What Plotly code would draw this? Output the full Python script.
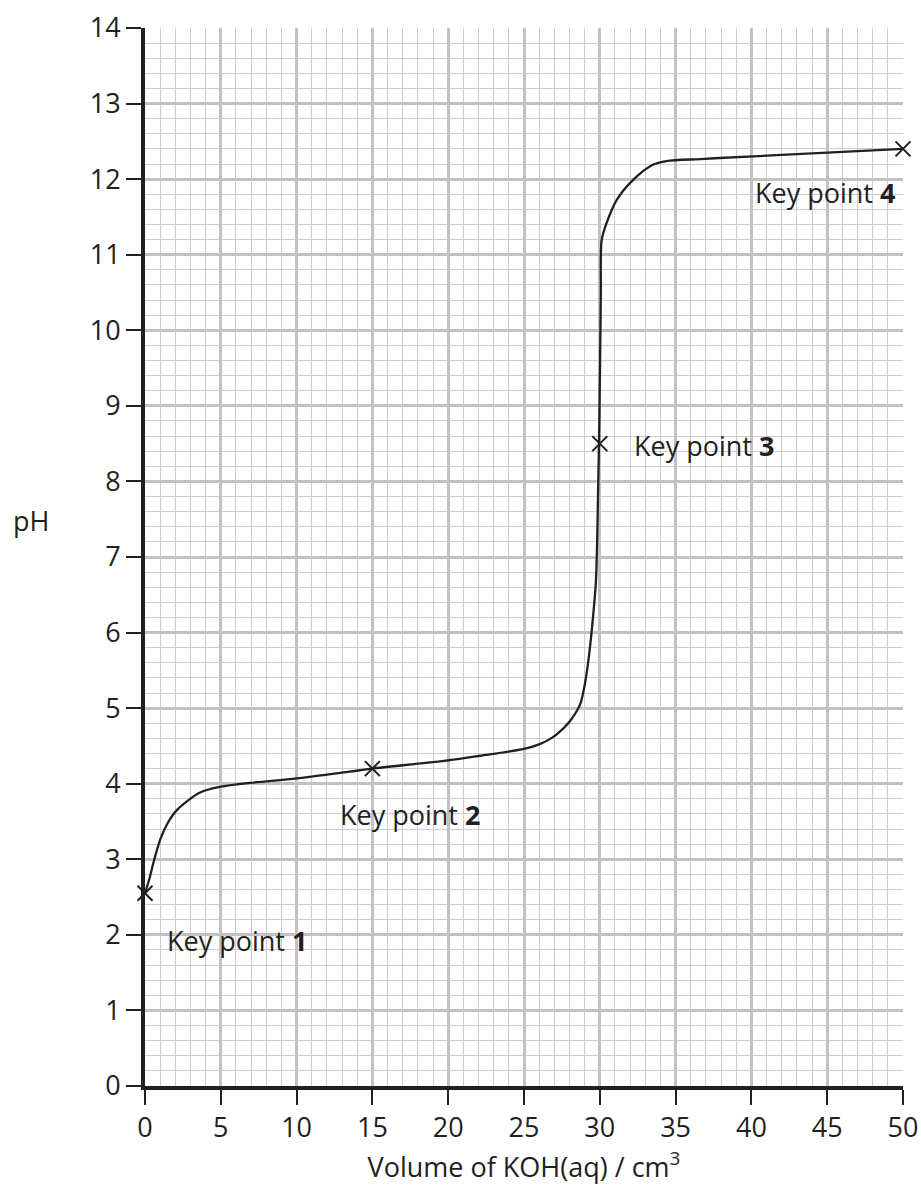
import plotly.graph_objects as go

vol = [0, 0.3, 0.55, 1.0, 1.5, 2.1, 3.6, 5.0, 6.9, 10.0, 13.5, 15.0, 20.0, 22.1, 25.0, 26.0,
       26.7, 27.2, 28.0, 28.7, 28.95, 29.13, 29.35, 29.55, 29.75, 29.9, 29.97, 30.02, 30.07, 30.12,
       30.45, 31.1, 32.2, 33.5, 34.4, 36.6, 37.9, 42.0, 46.0, 50.0]
ph = [2.55, 2.75, 2.95, 3.26, 3.48, 3.65, 3.88, 3.96, 4.01, 4.07, 4.16, 4.2, 4.31, 4.37, 4.46, 4.52,
      4.59, 4.66, 4.82, 5.05, 5.25, 5.46, 5.8, 6.2, 6.7, 8.0, 8.8, 9.6, 10.5, 11.19,
      11.42, 11.72, 11.99, 12.19, 12.24, 12.265, 12.28, 12.32, 12.36, 12.4]

key_x = [0, 15, 30, 50]
key_y = [2.55, 4.2, 8.5, 12.4]
key_labels = ["Key point <b>1</b>", "Key point <b>2</b>", "Key point <b>3</b>", "Key point <b>4</b>"]
label_x = [1.3, 12.7, 32.1, 40.1]
label_y = [1.92, 3.59, 8.48, 11.82]

x_ticks = list(range(0, 51, 5))
y_ticks = list(range(0, 15))

FONT = "Open Sans"
INK = "#231f20"
GRID_MAJOR = "#c2c2c4"
GRID_MINOR = "#cdcdcf"

fig = go.Figure()
fig.add_trace(go.Scatter(x=vol, y=ph, mode="lines",
                         line=dict(color=INK, width=2.3, shape="spline", smoothing=0.8),
                         hoverinfo="skip", showlegend=False))
fig.add_trace(go.Scatter(x=key_x, y=key_y, mode="markers",
                         marker=dict(symbol="x-thin", size=15, line=dict(color=INK, width=2)),
                         showlegend=False, cliponaxis=False, hoverinfo="skip"))

for lx, ly, t in zip(label_x, label_y, key_labels):
    fig.add_annotation(x=lx, y=ly, text=t, showarrow=False, xanchor="left", yanchor="middle",
                       font=dict(family=FONT, size=27, color=INK))

fig.add_annotation(xref="paper", x=-0.151, y=7.48, yref="y", text="pH", showarrow=False,
                   xanchor="center", yanchor="middle", font=dict(family=FONT, size=27, color=INK))

fig.update_xaxes(range=[0, 50], tickvals=x_ticks, ticks="outside", ticklen=15, tickwidth=2,
                 tickcolor=INK, showline=True, linewidth=4, linecolor=INK,
                 showgrid=True, gridcolor=GRID_MAJOR, gridwidth=3, zeroline=False,
                 automargin=False, ticklabeloverflow="allow",
                 minor=dict(dtick=1, showgrid=True, gridcolor=GRID_MINOR, gridwidth=1, ticks=""),
                 tickfont=dict(family=FONT, size=27, color=INK),
                 title=dict(text="Volume of KOH(aq) / cm<sup>3</sup>", standoff=10,
                            font=dict(family=FONT, size=27, color=INK)))
fig.update_yaxes(range=[0, 14], tickvals=y_ticks, ticks="outside", ticklen=15, tickwidth=2,
                 tickcolor=INK, showline=True, linewidth=4, linecolor=INK,
                 showgrid=True, gridcolor=GRID_MAJOR, gridwidth=3, zeroline=False,
                 automargin=False, ticklabeloverflow="allow",
                 minor=dict(dtick=0.2, showgrid=True, gridcolor=GRID_MINOR, gridwidth=1, ticks=""),
                 tickfont=dict(family=FONT, size=27, color=INK))

fig.update_layout(width=921, height=1192, margin=dict(l=145, r=18, t=28, b=106),
                  plot_bgcolor="white", paper_bgcolor="white", hovermode=False)

fig.write_html("out.html", config={"displayModeBar": False},
               post_script="document.body.style.margin='0';document.body.style.overflow='hidden';")
